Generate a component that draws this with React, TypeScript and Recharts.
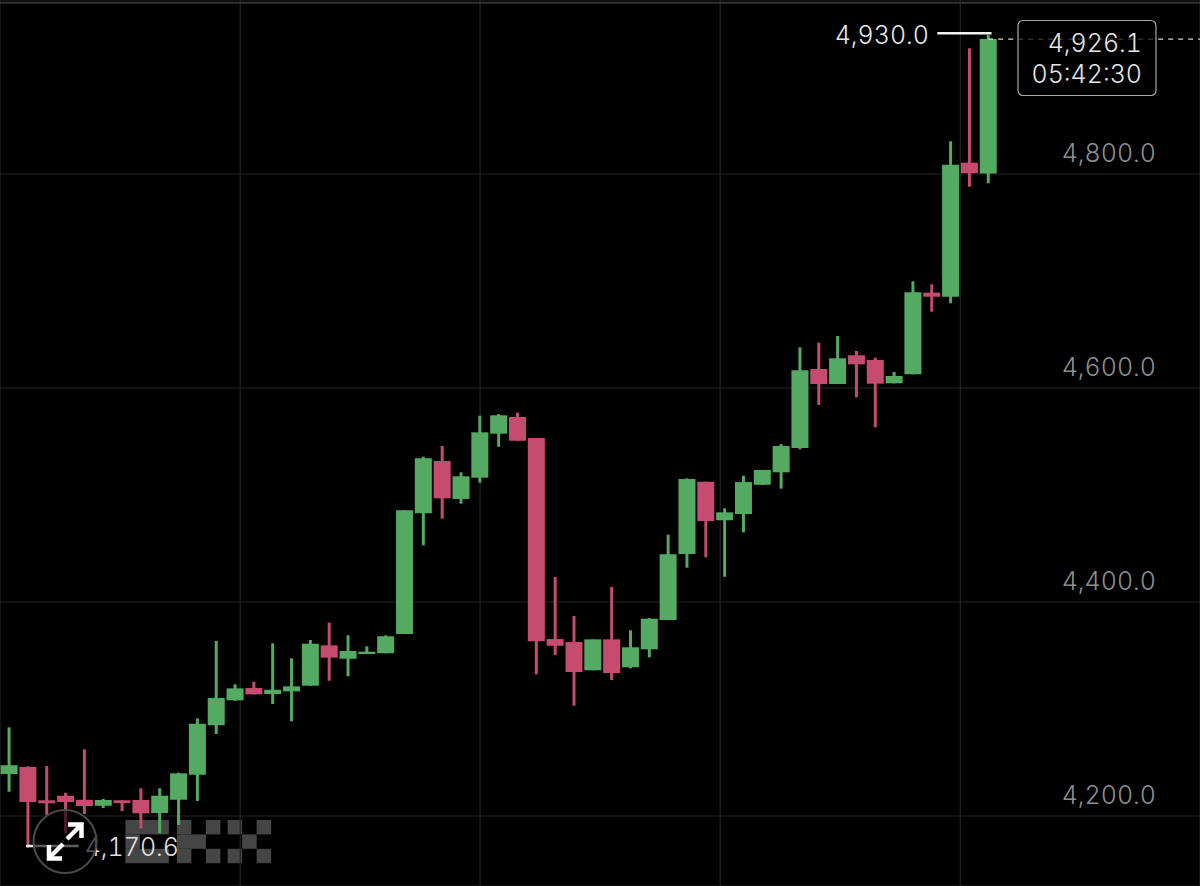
import { Bar, CartesianGrid, Cell, ComposedChart, ReferenceLine, XAxis, YAxis } from "recharts";

const WIDTH = 1200;
const HEIGHT = 886;
const GREEN = "#54aa62";
const RED = "#c54c6e";
const FONT = "Inter, Roboto, sans-serif";
const FONT_SIZE = 25;

const opens = [
  4239.3, 4245.8, 4214.7, 4219, 4215.2, 4209.6, 4214.7, 4215, 4202.8, 4215.2, 4238.6, 4284.8, 4308.1, 4319.6,
  4314, 4316.5, 4321.8, 4359.5, 4347, 4351.4, 4352.1, 4370.1, 4482.9, 4531.8, 4496.3, 4516.2, 4557.3, 4572.9,
  4553.3, 4365.4, 4362.6, 4336.2, 4365.1, 4339, 4355.8, 4383.2, 4444.9, 4512.4, 4476.4, 4482.2, 4509.6, 4521.2,
  4543.9, 4617.8, 4603.7, 4630.6, 4626.2, 4604.4, 4612.8, 4689.1, 4685.3, 4810.6, 4800.5,
];
const highs = [
  4282.9, 4246.5, 4246.7, 4221.8, 4262.3, 4215.9, 4214.7, 4225.9, 4225.9, 4240.5, 4291.3, 4363.6, 4323.1, 4325.5,
  4361.4, 4347.4, 4364.5, 4380.7, 4368.9, 4358.6, 4368.9, 4485.7, 4535.8, 4545.8, 4521.2, 4574.1, 4575.7, 4576.9,
  4553.3, 4423.4, 4386.9, 4365.1, 4414, 4373.6, 4385, 4462.9, 4515.6, 4512.4, 4487.6, 4518, 4523.4, 4547.7,
  4638, 4642.3, 4648.6, 4634.6, 4628.3, 4615, 4699.7, 4696.9, 4830.6, 4917.5, 4930,
];
const lows = [
  4222.7, 4170.6, 4201, 4184.1, 4201.9, 4207.5, 4204.7, 4188.5, 4183.8, 4191.6, 4214, 4276.6, 4307.8, 4313.7,
  4304.7, 4288.5, 4321.8, 4326.4, 4330.6, 4351.4, 4352.1, 4370.1, 4453, 4477.9, 4491.9, 4511.5, 4545.1, 4550.7,
  4332.4, 4350.5, 4303.1, 4336.2, 4327.1, 4338, 4348.3, 4383.2, 4432.1, 4441.8, 4423.6, 4465.1, 4509.3, 4505.9,
  4542.7, 4584.1, 4603.7, 4591.3, 4563.3, 4604.4, 4612.8, 4671.3, 4679.2, 4788.1, 4791.3,
];
const closes = [
  4247.4, 4213.1, 4211.9, 4213.1, 4209.3, 4215, 4212.1, 4202.5, 4219, 4239.9, 4286.3, 4310.3, 4319.3, 4313.7,
  4318, 4321.2, 4361, 4348, 4354.2, 4353.6, 4368, 4485.7, 4534.3, 4496.9, 4517.5, 4558.6, 4574.5, 4550.7,
  4363.3, 4359.1, 4334.6, 4365.1, 4333.6, 4357.7, 4384.4, 4444.6, 4515, 4475.7, 4483.8, 4512.1, 4523.4, 4545.8,
  4616.5, 4603.7, 4627.8, 4622.1, 4604, 4611.2, 4689.4, 4685.3, 4808.7, 4800.7, 4926.1,
];

const priceTicks = [4200, 4400, 4600, 4800];
// the time grid falls between candles
const timeTicks = [12.28, 25.02, 37.77, 50.52];

const highValue = 4930;
const lowValue = 4170.6;
const lastPrice = 4926.1;
const countdown = "05:42:30";

const candles = opens.map((open, i) => ({
  index: i,
  body: [Math.min(open, closes[i]), Math.max(open, closes[i])],
  wick: [lows[i], highs[i]],
  up: closes[i] >= open,
}));

const xDomain = [-0.478, 63.25];
const yDomain = [4134.6, 4962.6];

// watermark squares as [column, row, columns wide]
const logoCells = [
  [0, 0, 3], [0, 1, 1], [0, 2, 3],
  [3.55, 0, 1], [3.55, 1, 2], [3.55, 2, 1],
  [5.55, 0, 1], [5.55, 2, 1],
  [7.05, 0, 1], [7.05, 2, 1],
  [8.05, 1, 1],
  [9.05, 0, 1], [9.05, 2, 1],
];

const layer = { position: "absolute", left: 0, top: 0 } as const;
const tabular = { fontVariantNumeric: "tabular-nums" } as const;
const formatPrice = (v: number) => v.toLocaleString("en-US", { minimumFractionDigits: 1 });

function PriceTick({ y, payload }: any) {
  return (
    <text
      x={1156}
      y={y - 12}
      textAnchor="end"
      fill="#8e8e8e"
      fontSize={FONT_SIZE}
      fontFamily={FONT}
      fontWeight={300}
      style={tabular}
    >
      {formatPrice(payload.value)}
    </text>
  );
}

function Watermark() {
  return (
    <svg width={WIDTH} height={HEIGHT} style={layer}>
      {logoCells.map(([col, row, span]) => (
        <rect
          key={`${col}-${row}`}
          x={125.4 + col * 14.5}
          y={820 + row * 14.4}
          width={span * 14.5}
          height={14.4}
          fill="#454545"
        />
      ))}
    </svg>
  );
}

function Overlay() {
  const label = { textAnchor: "end", fontSize: FONT_SIZE, fontFamily: FONT, fontWeight: 300, style: tabular } as const;
  return (
    <svg width={WIDTH} height={HEIGHT} style={layer}>
      <text x={929} y={43.5} fill="#e6e6e6" {...label}>
        {formatPrice(highValue)}
      </text>
      <text x={179} y={856} fill="#e0e0e0" {...label}>
        {formatPrice(lowValue)}
      </text>
      <circle cx={65} cy={841.5} r={31.5} fill="rgba(0,0,0,0.62)" stroke="#4a4a4a" strokeWidth={2} />
      <g stroke="#fff" strokeWidth={4.5} fill="none">
        <path d="M67 839 L80 826" />
        <path d="M68 824.5 L81.5 824.5 L81.5 838" />
        <path d="M63 844 L50 857" />
        <path d="M62 858.5 L49 858.5 L49 845" />
      </g>
      <rect x={1018} y={20.5} width={138} height={75} rx={5} fill="rgba(0,0,0,0.72)" stroke="#a8a8a8" strokeWidth={1.2} />
      <text x={1142} y={52} fill="#e6e6e6" {...label}>
        {formatPrice(lastPrice)}
      </text>
      <text x={1142} y={83} fill="#e6e6e6" {...label}>
        {countdown}
      </text>
    </svg>
  );
}

export default function App() {
  return (
    <div style={{ ...layer, width: WIDTH, height: HEIGHT, background: "#000", overflow: "hidden" }}>
      <Watermark />
      <div style={layer}>
        <ComposedChart width={WIDTH} height={HEIGHT} data={candles} margin={{ top: 0, right: 0, bottom: 0, left: 0 }}>
          <CartesianGrid xAxisId="body" yAxisId="price" stroke="#242424" strokeWidth={1.2} />
          <XAxis
            xAxisId="body"
            dataKey="index"
            type="number"
            domain={xDomain}
            ticks={timeTicks}
            interval={0}
            allowDataOverflow
            height={0}
            tick={() => <g />}
            tickLine={false}
            axisLine={false}
          />
          <XAxis
            xAxisId="wick"
            dataKey="index"
            type="number"
            domain={xDomain}
            ticks={timeTicks}
            allowDataOverflow
            height={0}
            tick={false}
            tickLine={false}
            axisLine={false}
          />
          <YAxis
            yAxisId="price"
            orientation="right"
            mirror
            width={60}
            domain={yDomain}
            ticks={priceTicks}
            interval={0}
            allowDataOverflow
            tick={<PriceTick />}
            tickLine={false}
            axisLine={false}
          />
          <ReferenceLine xAxisId="body" yAxisId="price" y={4960} stroke="#333" strokeWidth={2} />
          <ReferenceLine
            xAxisId="body"
            yAxisId="price"
            segment={[{ x: 52, y: lastPrice }, { x: 63.25, y: lastPrice }]}
            stroke="#d8d8d8"
            strokeWidth={1.2}
            strokeDasharray="5 5"
          />
          <ReferenceLine
            xAxisId="body"
            yAxisId="price"
            segment={[{ x: 49.3, y: highValue + 1.5 }, { x: 52.18, y: highValue + 1.5 }]}
            stroke="#f2f2f2"
            strokeWidth={2.5}
          />
          <ReferenceLine
            xAxisId="body"
            yAxisId="price"
            segment={[{ x: 0.9, y: lowValue + 1.4 }, { x: 3.7, y: lowValue + 1.4 }]}
            stroke="#f2f2f2"
            strokeWidth={2.5}
          />
          <Bar xAxisId="wick" yAxisId="price" dataKey="wick" barSize={3} isAnimationActive={false}>
            {candles.map((c) => (
              <Cell key={`wick-${c.index}`} fill={c.up ? GREEN : RED} />
            ))}
          </Bar>
          <Bar xAxisId="body" yAxisId="price" dataKey="body" barSize={17} isAnimationActive={false}>
            {candles.map((c) => (
              <Cell key={`body-${c.index}`} fill={c.up ? GREEN : RED} />
            ))}
          </Bar>
        </ComposedChart>
      </div>
      <Overlay />
    </div>
  );
}
